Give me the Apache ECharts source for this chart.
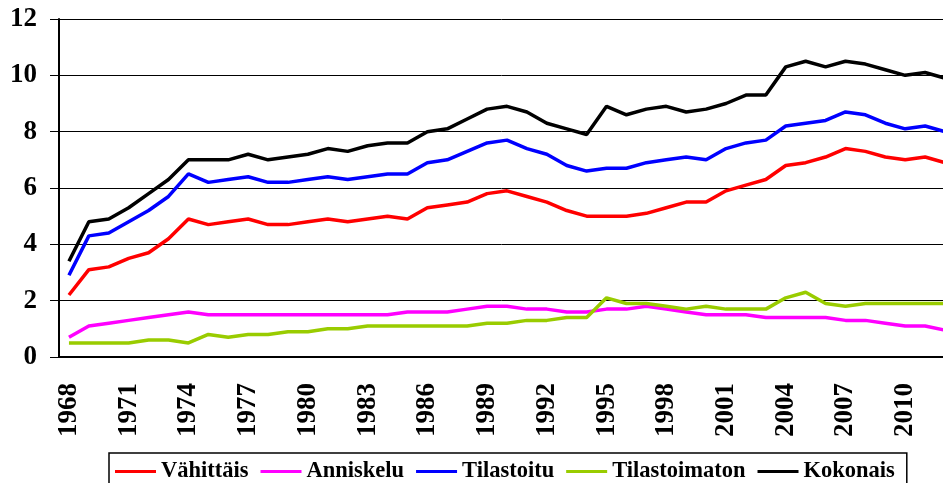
<!DOCTYPE html>
<html><head><meta charset="utf-8">
<script src="https://cdn.jsdelivr.net/npm/echarts@6/dist/echarts.min.js"></script>
<style>html,body{margin:0;padding:0;background:#fff}#c{width:943px;height:483px}</style>
</head><body><div id="c"></div>
<script>
const years = [];
for (let y = 1968; y <= 2012; y++) years.push(String(y));
const vahittais = [2.2,3.1,3.2,3.5,3.7,4.2,4.9,4.7,4.8,4.9,4.7,4.7,4.8,4.9,4.8,4.9,5.0,4.9,5.3,5.4,5.5,5.8,5.9,5.7,5.5,5.2,5.0,5.0,5.0,5.1,5.3,5.5,5.5,5.9,6.1,6.3,6.8,6.9,7.1,7.4,7.3,7.1,7.0,7.1,6.9];
const anniskelu = [0.7,1.1,1.2,1.3,1.4,1.5,1.6,1.5,1.5,1.5,1.5,1.5,1.5,1.5,1.5,1.5,1.5,1.6,1.6,1.6,1.7,1.8,1.8,1.7,1.7,1.6,1.6,1.7,1.7,1.8,1.7,1.6,1.5,1.5,1.5,1.4,1.4,1.4,1.4,1.3,1.3,1.2,1.1,1.1,0.95];
const tilastoitu = [2.9,4.3,4.4,4.8,5.2,5.7,6.5,6.2,6.3,6.4,6.2,6.2,6.3,6.4,6.3,6.4,6.5,6.5,6.9,7.0,7.3,7.6,7.7,7.4,7.2,6.8,6.6,6.7,6.7,6.9,7.0,7.1,7.0,7.4,7.6,7.7,8.2,8.3,8.4,8.7,8.6,8.3,8.1,8.2,8.0];
const tilastoimaton = [0.5,0.5,0.5,0.5,0.6,0.6,0.5,0.8,0.7,0.8,0.8,0.9,0.9,1.0,1.0,1.1,1.1,1.1,1.1,1.1,1.1,1.2,1.2,1.3,1.3,1.4,1.4,2.1,1.9,1.9,1.8,1.7,1.8,1.7,1.7,1.7,2.1,2.3,1.9,1.8,1.9,1.9,1.9,1.9,1.9];
const kokonais = [3.4,4.8,4.9,5.3,5.8,6.3,7.0,7.0,7.0,7.2,7.0,7.1,7.2,7.4,7.3,7.5,7.6,7.6,8.0,8.1,8.45,8.8,8.9,8.7,8.3,8.1,7.9,8.9,8.6,8.8,8.9,8.7,8.8,9.0,9.3,9.3,10.3,10.5,10.3,10.5,10.4,10.2,10.0,10.1,9.9];
const seriesNames = ['Vähittäis','Anniskelu','Tilastoitu','Tilastoimaton','Kokonais'];
const seriesColors = ['#ff0000','#ff00ff','#0000ff','#99cc00','#000000'];
const seriesData = [vahittais, anniskelu, tilastoitu, tilastoimaton, kokonais];

const font = 'Liberation Serif';
const chart = echarts.init(document.getElementById('c'));
chart.setOption({
  animation: false,
  backgroundColor: '#fff',
  grid: { left: 59, top: 19, width: 896, height: 338, outerBoundsMode: 'none', containLabel: false },
  legend: {
    left: 109, top: 453,
    padding: [7, 12, 7, 6],
    itemGap: 12,
    itemWidth: 41, itemHeight: 3,
    icon: 'rect',
    borderColor: '#000', borderWidth: 1.5,
    textStyle: { fontFamily: font, fontWeight: 'bold', fontSize: 22.5, color: '#000' },
    data: seriesNames
  },
  xAxis: {
    type: 'category', data: years, boundaryGap: true,
    axisLine: { lineStyle: { color: '#000', width: 2 } },
    axisTick: { interval: 0, length: 8, lineStyle: { color: '#000', width: 1 } },
    axisLabel: { interval: 2, rotate: 90, margin: 26, color: '#000', fontFamily: font, fontWeight: 'bold', fontSize: 27 },
    splitLine: { show: false }
  },
  yAxis: {
    type: 'value', min: 0, max: 12, interval: 2,
    axisLine: { show: true, lineStyle: { color: '#000', width: 2 } },
    axisTick: { show: true, length: 9, lineStyle: { color: '#000', width: 1 } },
    axisLabel: { margin: 22, color: '#000', fontFamily: font, fontWeight: 'bold', fontSize: 27 },
    splitLine: { lineStyle: { color: '#000', width: 1 } }
  },
  series: seriesNames.map((n, i) => ({
    name: n, type: 'line', data: seriesData[i], symbol: 'none',
    lineStyle: { color: seriesColors[i], width: 3.5 },
    itemStyle: { color: seriesColors[i] }
  }))
});
</script></body></html>
